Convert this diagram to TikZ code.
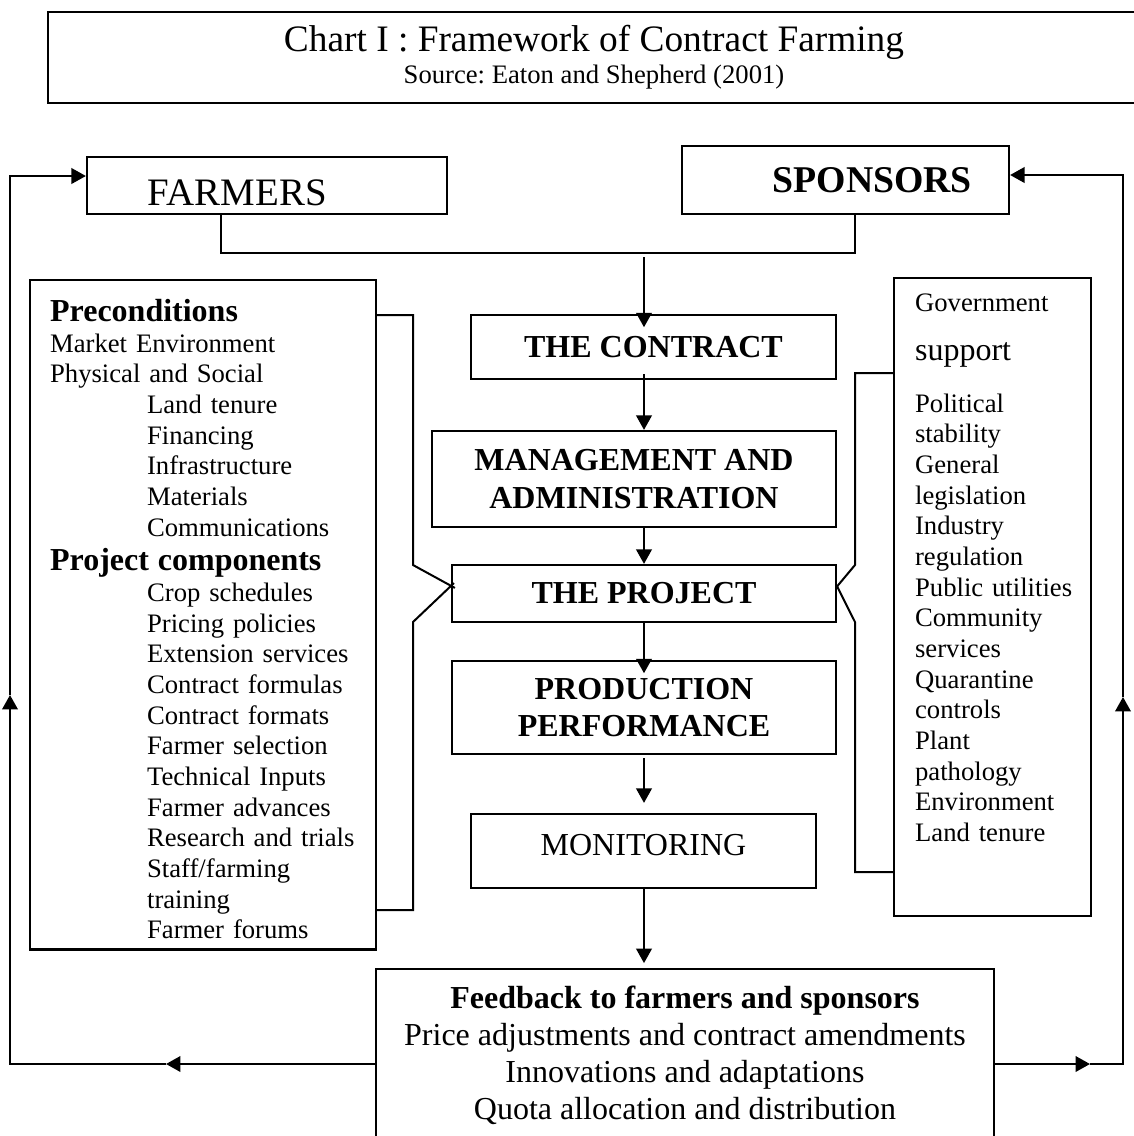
\documentclass[tikz,border=0pt]{standalone}
\usepackage{fontspec}
\setmainfont{Liberation Serif}
\usetikzlibrary{arrows.meta,positioning}
\frenchspacing
\newcommand{\hdr}[1]{{\bfseries\fontsize{14.4pt}{13.8pt}\selectfont #1}}
\newcommand{\subind}{\hspace*{43.65pt}}
\tikzset{
  chartbox/.style={
    draw=black,
    line width=1pt,
    align=center,
    inner sep=0pt,
    font=\fontsize{12pt}{14.4pt}\selectfont
  },
  headbox/.style={
    draw=black,
    line width=1pt,
    inner ysep=0pt
  },
  stepbox/.style={
    draw=black,
    line width=1pt,
    align=center,
    inner sep=2pt,
    font=\bfseries\fontsize{14.4pt}{17pt}\selectfont
  },
  listbox/.style={
    draw=black,
    line width=1pt,
    align=left,
    font=\fontsize{12pt}{13.8pt}\selectfont
  },
  feedbox/.style={
    draw=black,
    line width=1pt,
    align=center,
    font=\fontsize{14.4pt}{16.6pt}\selectfont
  },
  link/.style={
    line width=0.9pt
  },
  flowarrow/.style={
    -{Triangle[length=6.5pt,width=7pt]},
    line width=0.9pt
  }
}

\begin{document}
\begin{tikzpicture}[x=0.45pt,y=-0.45pt]
  \useasboundingbox (0,0) rectangle (1134,1136);

  \node[chartbox, minimum width=491.4pt, minimum height=40.95pt] (chart) at (594,57.5)
    {{\fontsize{16.8pt}{20pt}\selectfont Chart I : Framework of Contract Farming}\\
     Source: Eaton and Shepherd (2001)};

  \node[headbox, minimum width=162pt, minimum height=25.65pt, text width=107.1pt,
    inner xsep=27.45pt, align=left, text height=18.4pt,
    font=\fontsize{17.5pt}{20pt}\selectfont] (farmers) at (267,185.5) {FARMERS};
  \node[headbox, minimum width=147.15pt, minimum height=30.6pt, text width=113.85pt,
    inner xsep=16.65pt, align=right,
    font=\bfseries\fontsize{17pt}{20pt}\selectfont] (sponsors) at (845.5,180) {SPONSORS};

  \node[stepbox, minimum width=164.25pt, minimum height=28.8pt] (contract) at (653.5,347) {THE CONTRACT};
  \node[stepbox, minimum width=181.8pt, minimum height=43.2pt] (manage) at (634,479) {MANAGEMENT AND\\ADMINISTRATION};
  \node[stepbox, minimum width=172.8pt, minimum height=25.65pt] (project) at (644,593.5) {THE PROJECT};
  \node[stepbox, minimum width=172.8pt, minimum height=41.85pt] (production) at (644,707.5) {PRODUCTION\\PERFORMANCE};
  \node[stepbox, font=\fontsize{14.4pt}{17pt}\selectfont, minimum width=155.25pt,
    minimum height=33.3pt, text depth=5.9pt] (monitor) at (643.5,851) {MONITORING};

  \node[feedbox, anchor=north, minimum width=278.1pt, inner ysep=7.7pt] (feedback) at (685,968)
    {\textbf{Feedback to farmers and sponsors}\\
     Price adjustments and contract amendments\\
     Innovations and adaptations\\
     Quota allocation and distribution};

  \node[listbox, anchor=north west, text width=137.7pt, inner xsep=9pt, inner ysep=8.6pt,
    text depth=274pt] (pre) at (29,279)
    {\hdr{Preconditions}\\
     Market Environment\\
     Physical and Social\\
     \subind Land tenure\\
     \subind Financing\\
     \subind Infrastructure\\
     \subind Materials\\
     \subind Communications\\[1.8pt]
     \hdr{Project components}\\
     \subind Crop schedules\\
     \subind Pricing policies\\
     \subind Extension services\\
     \subind Contract formulas\\
     \subind Contract formats\\
     \subind Farmer selection\\
     \subind Technical Inputs\\
     \subind Farmer advances\\
     \subind Research and trials\\
     \subind Staff/farming\\
     \subind training\\
     \subind Farmer forums};

  \node[listbox, anchor=north west, text width=69.75pt, inner xsep=9.45pt, inner ysep=7pt,
    text depth=265.2pt] (gov) at (893,277)
    {Government\\[8.2pt]
     {\fontsize{14.4pt}{13.8pt}\selectfont support}\\[9.6pt]
     Political\\
     stability\\
     General\\
     legislation\\
     Industry\\
     regulation\\
     \mbox{Public utilities}\\
     Community\\
     services\\
     Quarantine\\
     controls\\
     Plant\\
     pathology\\
     Environment\\
     Land tenure};

  \coordinate (join) at (644,253);
  \coordinate (lbt) at (413,315);
  \coordinate (lbb) at (413,910);
  \coordinate (rbt) at (855,373);
  \coordinate (rbb) at (855,872);
  \coordinate (ltip) at (166,1064);
  \coordinate (lup) at (10,695);
  \coordinate (ltop) at (10,176);
  \coordinate (rtip) at (1090,1064);
  \coordinate (rup) at (1123,697);
  \coordinate (rtop) at (1123,175);

  \draw[link] ([xshift=-20.7pt]farmers.south) |- (join) -| ([xshift=4.3pt]sponsors.south);
  \draw[flowarrow, shorten <=1.8pt, shorten >=-6pt] (join) -- (contract.north -| join);
  \draw[flowarrow, shorten <=-2.7pt] (contract.south -| join) -- (manage.north -| join);
  \draw[flowarrow] (manage.south -| join) -- (project.north -| join);
  \draw[flowarrow, shorten >=-6pt] (project.south -| join) -- (production.north -| join);
  \draw[flowarrow, shorten <=1.4pt, shorten >=4.5pt] (production.south -| join) -- (monitor.north -| join);
  \draw[flowarrow, shorten >=2.2pt] (monitor.south -| join) -- (feedback.north -| join);

  \draw[link] (pre.east |- lbt) -- (lbt) -- ++(0,250) -- ([xshift=1.8pt,yshift=2.5pt]project.west);
  \draw[link] (pre.east |- lbb) -- (lbb) -- ++(0,-288) -- ([xshift=1.4pt,yshift=4.7pt]project.west);
  \draw[link] (gov.west |- rbt) -- (rbt) -- ++(0,192) -- ([yshift=3.2pt]project.east);
  \draw[link] (gov.west |- rbb) -- (rbb) -- ++(0,-250) -- ([yshift=3.2pt]project.east);

  \draw[flowarrow] (feedback.west |- ltip) -- (ltip);
  \draw[flowarrow] (ltip) -| (lup);
  \draw[flowarrow] (lup) |- (farmers.west |- ltop);
  \draw[flowarrow] (feedback.east |- rtip) -- (rtip);
  \draw[flowarrow] (rtip) -| (rup);
  \draw[flowarrow] (rup) |- (sponsors.east |- rtop);
\end{tikzpicture}
\end{document}
